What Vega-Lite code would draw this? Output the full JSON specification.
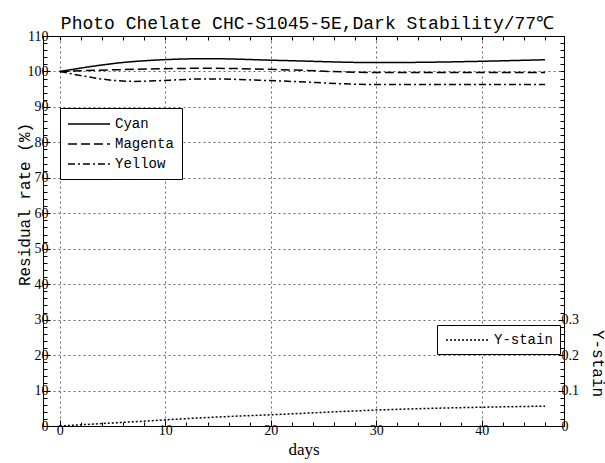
{
  "$schema": "https://vega.github.io/schema/vega-lite/v6.json",
  "width": 521,
  "height": 390,
  "autosize": "none",
  "padding": {"left": 43, "top": 36, "right": 41, "bottom": 37},
  "background": "white",
  "title": {"text": "Photo Chelate CHC-S1045-5E,Dark Stability/77℃", "font": "Liberation Mono", "fontSize": 18, "fontWeight": "normal", "color": "black", "baseline": "alphabetic", "offset": -18, "dx": 4},
  "config": {
    "view": {"stroke": "black", "strokeWidth": 1},
    "axis": {"domainColor": "black", "tickColor": "black", "labelColor": "black", "titleColor": "black", "gridColor": "#666", "gridDash": [2, 3], "gridWidth": 1}
  },
  "datasets": {
    "dyes": [
      {"dye": "Cyan", "days": 0, "rate": 100},
      {"dye": "Cyan", "days": 7, "rate": 102.8},
      {"dye": "Cyan", "days": 14, "rate": 103.6},
      {"dye": "Cyan", "days": 21, "rate": 103.1},
      {"dye": "Cyan", "days": 30, "rate": 102.5},
      {"dye": "Cyan", "days": 46, "rate": 103.3},
      {"dye": "Magenta", "days": 0, "rate": 100},
      {"dye": "Magenta", "days": 7, "rate": 100.6},
      {"dye": "Magenta", "days": 14, "rate": 100.9},
      {"dye": "Magenta", "days": 21, "rate": 100.5},
      {"dye": "Magenta", "days": 30, "rate": 99.7},
      {"dye": "Magenta", "days": 46, "rate": 99.7},
      {"dye": "Yellow", "days": 0, "rate": 100},
      {"dye": "Yellow", "days": 7, "rate": 97.2},
      {"dye": "Yellow", "days": 14, "rate": 97.9},
      {"dye": "Yellow", "days": 21, "rate": 97.3},
      {"dye": "Yellow", "days": 30, "rate": 96.3},
      {"dye": "Yellow", "days": 46, "rate": 96.3}
    ],
    "stain": [
      {"name": "Y-stain", "days": 0, "ystain": 0},
      {"name": "Y-stain", "days": 7, "ystain": 0.012},
      {"name": "Y-stain", "days": 14, "ystain": 0.024},
      {"name": "Y-stain", "days": 21, "ystain": 0.033},
      {"name": "Y-stain", "days": 30, "ystain": 0.045},
      {"name": "Y-stain", "days": 46, "ystain": 0.056}
    ]
  },
  "layer": [
    {
      "data": {"name": "dyes"},
      "mark": {"type": "line", "interpolate": "monotone", "color": "black", "strokeWidth": 1.5},
      "encoding": {
        "x": {
          "field": "days", "type": "quantitative",
          "scale": {"domain": [-1.6, 47.8], "nice": false, "zero": false},
          "axis": {
            "orient": "bottom",
            "values": [0,2,4,6,8,10,12,14,16,18,20,22,24,26,28,30,32,34,36,38,40,42,44,46],
            "labelExpr": "datum.value % 10 === 0 ? datum.label : ''",
            "labelFont": "Liberation Serif", "labelFontSize": 14, "labelPadding": 3,
            "tickSize": {"condition": {"test": "datum.value % 10 === 0", "value": -6}, "value": -4},
            "grid": true,
            "gridOpacity": {"condition": {"test": "datum.value % 10 === 0", "value": 1}, "value": 0},
            "title": "days", "titleFont": "Liberation Serif", "titleFontSize": 17, "titleFontWeight": "normal", "titlePadding": 4
          }
        },
        "y": {
          "field": "rate", "type": "quantitative",
          "scale": {"domain": [0, 110], "nice": false},
          "axis": {
            "orient": "left",
            "values": [0,2,4,6,8,10,12,14,16,18,20,22,24,26,28,30,32,34,36,38,40,42,44,46,48,50,52,54,56,58,60,62,64,66,68,70,72,74,76,78,80,82,84,86,88,90,92,94,96,98,100,102,104,106,108,110],
            "labelExpr": "datum.value % 10 === 0 ? datum.label : ''",
            "labelFont": "Liberation Serif", "labelFontSize": 14, "labelPadding": 2,
            "tickSize": {"condition": {"test": "datum.value % 10 === 0", "value": -7}, "value": -4},
            "grid": true,
            "gridOpacity": {"condition": {"test": "datum.value % 10 === 0", "value": 1}, "value": 0},
            "title": "Residual rate (%)", "titleFont": "Liberation Mono", "titleFontSize": 16, "titleFontWeight": "normal",
            "titleAngle": -90, "titleX": -19, "titleY": 168, "titleAlign": "center", "titleBaseline": "middle"
          }
        },
        "strokeDash": {
          "field": "dye", "type": "nominal",
          "scale": {"domain": ["Cyan", "Magenta", "Yellow"], "range": [[1, 0], [9, 4], [7, 3, 2, 3]]},
          "legend": {
            "orient": "none", "legendX": 17, "legendY": 72, "title": null,
            "symbolType": "M-3,0H3", "symbolSize": 196, "symbolStrokeWidth": 1.5, "symbolStrokeColor": "black", "symbolFillColor": "transparent",
            "symbolOffset": 13,
            "labelFont": "Liberation Mono", "labelFontSize": 14, "labelColor": "black", "labelOffset": 18,
            "strokeColor": "black", "fillColor": "white", "padding": 8, "rowPadding": 5
          }
        }
      }
    },
    {
      "data": {"name": "stain"},
      "mark": {"type": "line", "interpolate": "monotone", "color": "black", "strokeWidth": 1.5},
      "encoding": {
        "x": {
          "field": "days", "type": "quantitative",
          "axis": {
            "orient": "top",
            "values": [0,2,4,6,8,10,12,14,16,18,20,22,24,26,28,30,32,34,36,38,40,42,44,46],
            "labels": false, "tickSize": -4, "grid": false, "title": null
          }
        },
        "y": {
          "field": "ystain", "type": "quantitative",
          "scale": {"domain": [0, 1.1], "nice": false},
          "axis": {
            "orient": "right",
            "values": [0,0.02,0.04,0.06,0.08,0.1,0.12,0.14,0.16,0.18,0.2,0.22,0.24,0.26,0.28,0.3,0.32,0.34,0.36,0.38,0.4,0.42,0.44,0.46,0.48,0.5,0.52,0.54,0.56,0.58,0.6,0.62,0.64,0.66,0.68,0.7,0.72,0.74,0.76,0.78,0.8,0.82,0.84,0.86,0.88,0.9,0.92,0.94,0.96,0.98,1.0,1.02,1.04,1.06,1.08,1.1],
            "labelExpr": "(datum.value <= 0.3001 && abs(datum.value * 10 - round(datum.value * 10)) < 0.001) ? format(datum.value, '.1~f') : ''",
            "labelFont": "Liberation Serif", "labelFontSize": 14, "labelPadding": 3,
            "tickSize": {"condition": {"test": "datum.value <= 0.3001 && abs(datum.value * 10 - round(datum.value * 10)) < 0.001", "value": -6}, "value": -4},
            "grid": false,
            "title": "Y-stain", "titleFont": "Liberation Mono", "titleFontSize": 16, "titleFontWeight": "normal",
            "titleAngle": 90, "titleX": 33, "titleY": 327, "titleAlign": "center", "titleBaseline": "middle"
          }
        },
        "strokeDash": {
          "field": "name", "type": "nominal",
          "scale": {"domain": ["Y-stain"], "range": [[2, 2]]},
          "legend": {
            "orient": "none", "legendX": 394, "legendY": 289, "title": null,
            "symbolType": "M-3.14,0H3.14", "symbolSize": 196, "symbolStrokeWidth": 1.5, "symbolStrokeColor": "black", "symbolFillColor": "transparent",
            "symbolOffset": 16,
            "labelFont": "Liberation Mono", "labelFontSize": 14, "labelColor": "black", "labelOffset": 18,
            "strokeColor": "black", "fillColor": "white", "padding": 7
          }
        }
      }
    }
  ],
  "resolve": {
    "scale": {"y": "independent", "strokeDash": "independent"},
    "axis": {"x": "independent", "y": "independent"}
  }
}
